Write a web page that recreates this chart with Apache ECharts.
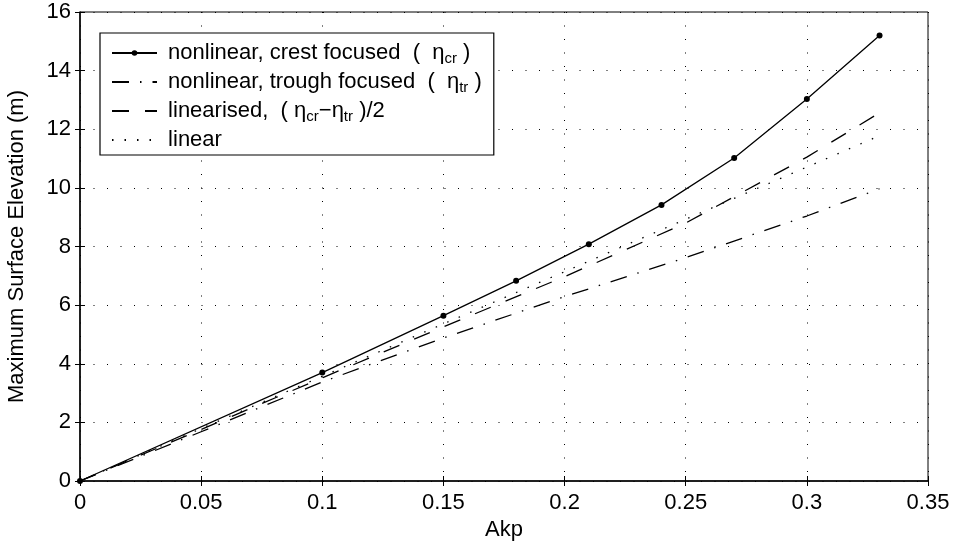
<!DOCTYPE html>
<html>
<head>
<meta charset="utf-8">
<script src="https://cdn.jsdelivr.net/npm/echarts@6/dist/echarts.min.js"></script>
<style>
  html, body { margin: 0; padding: 0; background: #fff; }
  #chart { width: 955px; height: 542px; }
</style>
</head>
<body>
<div id="chart"></div>
<script>
// data
const crestX = [0, 0.1, 0.15, 0.18, 0.21, 0.24, 0.27, 0.30, 0.33]
const crest = [0, 3.7, 5.64, 6.83, 8.08, 9.42, 11.02, 13.03, 15.2]
const akp = [0, 0.05, 0.1, 0.15, 0.2, 0.25, 0.3, 0.33]
const trough = [0, 1.68, 3.38, 4.88, 6.29, 7.62, 9.04, 9.97]
const linearised = [0, 1.76, 3.52, 5.26, 6.97, 8.8, 11.05, 12.56]
const linear = [0, 1.79, 3.57, 5.36, 7.14, 8.93, 10.71, 11.78]
const names = [
  'nonlinear, crest focused',
  'nonlinear, trough focused',
  'linearised',
  'linear'
]

const pairs = (xs, ys) => xs.map((x, i) => [x, ys[i]])
const font = 'Liberation Sans, Arial, sans-serif'
const fs = 22

const chart = echarts.init(document.getElementById('chart'))

const gridLine = { show: true, lineStyle: { color: '#000', width: 1, type: [1, 12.5] } }
const hidden = { opacity: 0, color: 'rgba(0,0,0,0)', borderWidth: 0 }

const option = {
  backgroundColor: '#fff',
  animation: false,
  grid: {
    left: 80, right: 27, top: 12, bottom: 61,
    outerBoundsMode: 'none',
    show: true, borderColor: '#000', borderWidth: 1
  },
  legend: {
    orient: 'vertical',
    left: 100,
    top: 33,
    padding: [9, 12, 4, 11],
    itemGap: 5,
    itemWidth: 45,
    itemHeight: 7,
    backgroundColor: '#fff',
    borderColor: '#000',
    borderWidth: 1.2,
    data: [
      { name: names[0] },
      { name: names[1], itemStyle: hidden },
      { name: names[2], itemStyle: hidden },
      { name: names[3], itemStyle: hidden }
    ],
    textStyle: {
      fontFamily: font, fontSize: fs, color: '#000',
      rich: {
        t: { fontFamily: font, fontSize: fs, color: '#000', height: 23 },
        s: { fontFamily: font, fontSize: 15, color: '#000', verticalAlign: 'bottom', padding: [11, 0, 0, 0] }
      }
    },
    formatter: function (n) {
      if (n === names[0]) return '{t| nonlinear, crest focused  (  η}{s|cr}{t| )}'
      if (n === names[1]) return '{t| nonlinear, trough focused  (  η}{s|tr}{t| )}'
      if (n === names[2]) return '{t| linearised,  ( η}{s|cr}{t|−η}{s|tr}{t| )/2}'
      return '{t| linear}'
    }
  },
  xAxis: [{
    type: 'value', min: 0, max: 0.35, interval: 0.05,
    name: 'Akp', nameLocation: 'middle', nameGap: 37,
    nameTextStyle: { fontFamily: font, fontSize: fs, color: '#000' },
    axisLine: { show: true, onZero: false, lineStyle: { color: '#000', width: 1.5 } },
    axisTick: { show: true, inside: true, length: 5, lineStyle: { color: '#000' } },
    axisLabel: { fontFamily: font, fontSize: fs, color: '#000', margin: 11,
      formatter: v => String(+v.toFixed(2)) },
    splitLine: gridLine
  }, {
    type: 'value', min: 0, max: 0.35, interval: 0.05, position: 'top',
    axisLine: { show: false },
    axisTick: { show: true, inside: true, length: 5, lineStyle: { color: '#000' } },
    axisLabel: { show: false },
    splitLine: { show: false }
  }],
  yAxis: [{
    type: 'value', min: 0, max: 16, interval: 2,
    name: 'Maximum Surface Elevation (m)', nameLocation: 'middle', nameGap: 52,
    nameTextStyle: { fontFamily: font, fontSize: fs, color: '#000' },
    axisLine: { show: true, onZero: false, lineStyle: { color: '#000', width: 1.5 } },
    axisTick: { show: true, inside: true, length: 5, lineStyle: { color: '#000' } },
    axisLabel: { fontFamily: font, fontSize: fs, color: '#000', margin: 9 },
    splitLine: gridLine
  }, {
    type: 'value', min: 0, max: 16, interval: 2, position: 'right',
    axisLine: { show: false },
    axisTick: { show: true, inside: true, length: 5, lineStyle: { color: '#000' } },
    axisLabel: { show: false },
    splitLine: { show: false }
  }],
  series: [
    {
      name: names[0], type: 'line', data: pairs(crestX, crest),
      symbol: 'circle', symbolSize: 6, showSymbol: true,
      itemStyle: { color: '#000' },
      lineStyle: { color: '#000', width: 1.3, type: 'solid' },
      z: 5
    },
    {
      name: names[1], type: 'line', data: pairs(akp, trough),
      symbol: 'none', itemStyle: { color: '#000' },
      lineStyle: { color: '#000', width: 1.3, type: [17, 11, 1.5, 11] }
    },
    {
      name: names[2], type: 'line', data: pairs(akp, linearised),
      symbol: 'none', itemStyle: { color: '#000' },
      lineStyle: { color: '#000', width: 1.3, type: [17, 16] }
    },
    {
      name: names[3], type: 'line', data: pairs(akp, linear),
      symbol: 'none', itemStyle: { color: '#000' },
      lineStyle: { color: '#000', width: 1.3, type: [1.5, 11] }
    }
  ]
}

chart.setOption(option)
</script>
</body>
</html>
